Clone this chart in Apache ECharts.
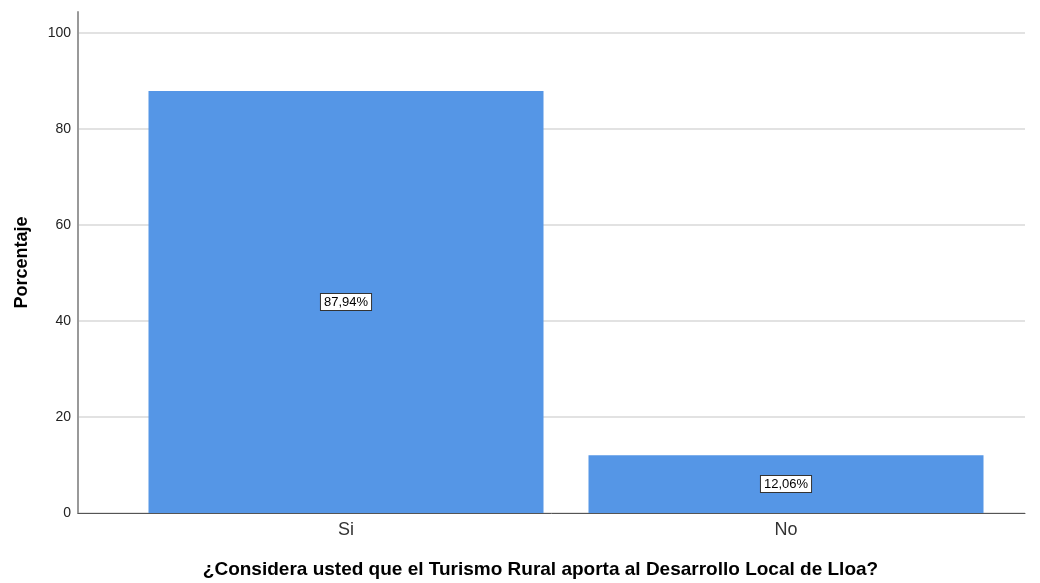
<!DOCTYPE html>
<html>
<head>
<meta charset="utf-8">
<script src="https://cdn.jsdelivr.net/npm/echarts@6/dist/echarts.min.js"></script>
<style>
  html, body { margin: 0; padding: 0; background: #fff; }
  #chart { width: 1040px; height: 583px; }
</style>
</head>
<body>
<div id="chart"></div>
<script>
const categories = ["Si", "No"];
const percentages = [87.94, 12.06];
const yTicks = [0, 20, 40, 60, 80, 100];

const chart = echarts.init(document.getElementById("chart"));
const font = "Liberation Sans, Arial, sans-serif";

chart.setOption({
  animation: false,
  textStyle: { fontFamily: font },
  grid: [
    // frame: y axis, gridlines, bottom line
    { left: 78, right: 15, top: 12, bottom: 70, outerBoundsMode: "none" },
    // bars, inset like the original
    { left: 126, right: 34, top: 12, bottom: 70, outerBoundsMode: "none" }
  ],
  xAxis: [
    {
      gridIndex: 0, type: "category", data: [""],
      axisLine: { lineStyle: { color: "#555", width: 1 } },
      axisTick: { show: false }, axisLabel: { show: false },
      name: "¿Considera usted que el Turismo Rural aporta al Desarrollo Local de Lloa?",
      nameLocation: "middle", nameGap: 47,
      nameTextStyle: {
        fontSize: 19, fontWeight: "bold", color: "#000", fontFamily: font,
        padding: [0, 22, 0, 0]
      }
    },
    {
      gridIndex: 1, type: "category", data: categories,
      axisLine: { show: false }, axisTick: { show: false },
      axisLabel: { fontSize: 18, color: "#333", margin: 8, fontFamily: font }
    }
  ],
  yAxis: [
    {
      gridIndex: 0, type: "value", min: 0, max: 104.4, interval: 20,
      axisLine: { show: true, lineStyle: { color: "#999", width: 2 } },
      axisTick: { show: false },
      axisLabel: {
        fontSize: 14, color: "#222", margin: 7, fontFamily: font,
        formatter: v => yTicks.includes(v) ? String(v) : ""
      },
      splitLine: { show: true, showMaxLine: false, lineStyle: { color: "#d9d9d9", width: 1.5 } },
      name: "Porcentaje", nameLocation: "middle", nameGap: 47, nameRotate: 90,
      nameTextStyle: { fontSize: 18, fontWeight: "bold", color: "#000", fontFamily: font }
    },
    {
      gridIndex: 1, type: "value", min: 0, max: 104.4, show: false
    }
  ],
  series: [{
    type: "bar",
    xAxisIndex: 1, yAxisIndex: 1,
    data: percentages,
    barWidth: 395,
    itemStyle: { color: "#5596e6" },
    label: {
      show: true, position: "inside",
      formatter: p => p.value.toFixed(2).replace(".", ",") + "%",
      fontSize: 13, color: "#000", fontFamily: font,
      backgroundColor: "#fff", borderColor: "#333", borderWidth: 1,
      padding: [2, 3, 1, 3]
    }
  }]
});

window.addEventListener("resize", () => chart.resize());
</script>
</body>
</html>
